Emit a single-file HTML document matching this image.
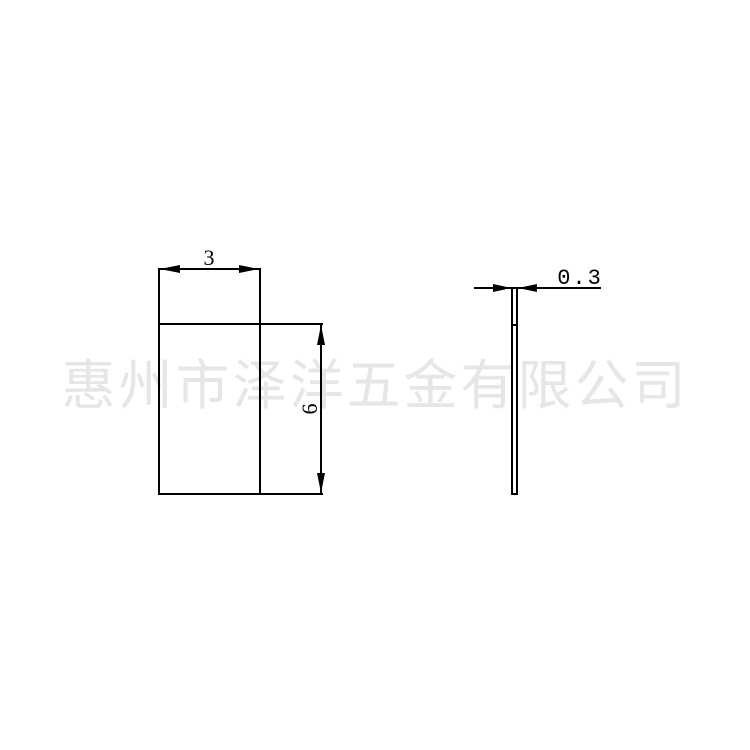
<!DOCTYPE html>
<html><head><meta charset="utf-8"><style>
html,body{margin:0;padding:0;background:#fff;width:750px;height:750px;overflow:hidden}
</style></head><body>
<svg width="750" height="750" xmlns="http://www.w3.org/2000/svg" style="position:absolute;left:0;top:0">
<text x="375" y="404" text-anchor="middle" font-family="Liberation Sans, Noto Sans CJK SC, sans-serif" font-size="54" fill="#e6e6e6" letter-spacing="3">惠州市泽洋五金有限公司</text>
<g stroke="#000" stroke-width="2" fill="none">
<rect x="159" y="324" width="101" height="170"/>
<line x1="159" y1="268" x2="159" y2="324"/>
<line x1="260" y1="268" x2="260" y2="324"/>
<line x1="159" y1="269" x2="260" y2="269"/>
<line x1="260" y1="324" x2="323" y2="324"/>
<line x1="260" y1="494" x2="323" y2="494"/>
<line x1="321" y1="324" x2="321" y2="494"/>
<line x1="474" y1="288" x2="601" y2="288"/>
<rect x="512" y="288" width="5" height="206"/>
<line x1="512" y1="325" x2="517" y2="325"/>
</g>
<g fill="#000">
<polygon points="160,269 180,265 180,273"/>
<polygon points="259,269 239,265 239,273"/>
<polygon points="321,325 317,345 325,345"/>
<polygon points="321,493 317,473 325,473"/>
<polygon points="511,288 493,284 493,292"/>
<polygon points="518,288 537,284 537,292"/>
</g>
<text x="209" y="265" text-anchor="middle" font-family="Liberation Serif, serif" font-size="22">3</text>
<text x="580" y="284" text-anchor="middle" font-family="Liberation Mono, monospace" font-size="22" letter-spacing="2">0.3</text>
<text transform="translate(317,409) rotate(-90)" text-anchor="middle" font-family="Liberation Serif, serif" font-size="22">6</text>
</svg>
</body></html>
